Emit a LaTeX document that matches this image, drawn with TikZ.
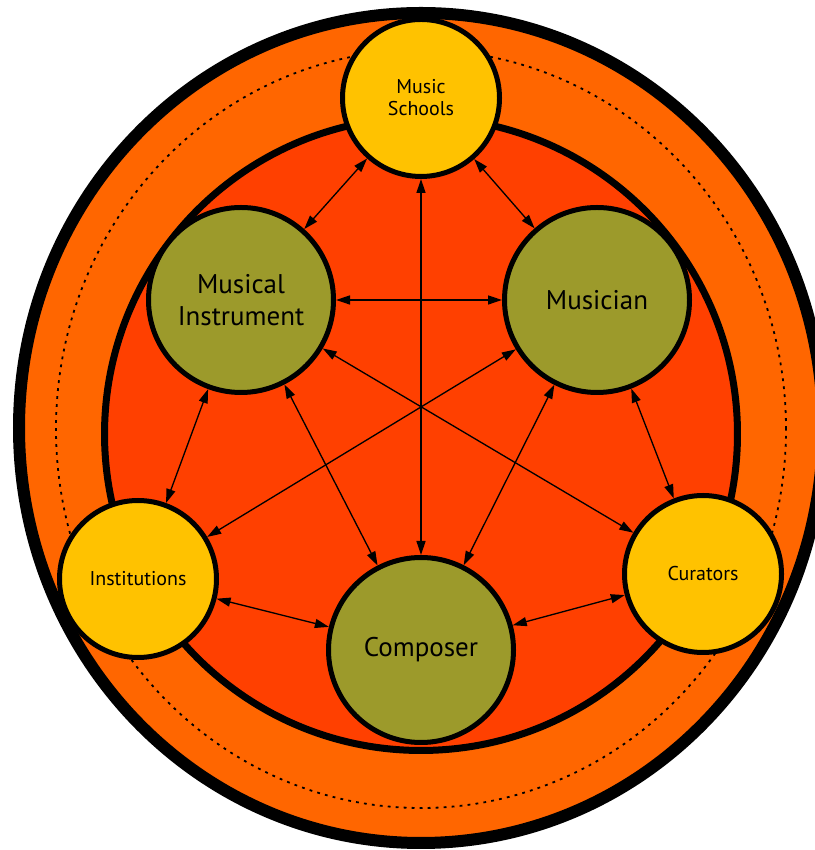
\documentclass[tikz,border=0pt]{standalone}
\usepackage{fontspec}
\setmainfont{PT Sans}
\usepackage{tikz}
\usetikzlibrary{arrows.meta}
\definecolor{bandorange}{HTML}{FF6600}
\definecolor{coreorange}{HTML}{FF4000}
\definecolor{actoryellow}{HTML}{FFC200}
\definecolor{actorgreen}{HTML}{9C9A2B}
\tikzset{
  every picture/.style={line join=round, >={Triangle[length=0.35cm,width=0.225cm]}},
  ringnode/.style={circle,draw,line width=0.125cm,fill=actoryellow,minimum size=3.925cm,inner sep=0pt,align=center,font=\fontsize{14.2}{15.6}\selectfont},
  corenode/.style={circle,draw,line width=0.125cm,fill=actorgreen,minimum size=4.625cm,inner sep=0pt,align=center,font=\fontsize{19.2}{22.7}\selectfont},
  link/.style={<->,line width=0.033cm},
}

\begin{document}
\begin{tikzpicture}
\useasboundingbox (0,0) rectangle (20.350,21.250);
% bands
\draw[line width=0.300cm,fill=bandorange] (10.525,10.550) ellipse[x radius=10.050,y radius=10.375];
\draw[line width=0.045cm,dash pattern=on 0.070cm off 0.130cm] (10.525,10.525) ellipse[x radius=9.125,y radius=9.475];
\draw[line width=0.175cm,fill=coreorange] (10.525,10.400) circle[radius=7.912];
% actors
\node[ringnode] (schools) at (10.525,18.800) {Music\\Schools};
\node[ringnode] (institutions) at (3.450,6.775) {Institutions};
\node[ringnode] (curators) at (17.575,6.900) {Curators};
\node[corenode] (instrument) at (6.025,13.750) {Musical\\Instrument};
\node[corenode] (musician) at (14.925,13.750) {Musician};
\node[corenode] (composer) at (10.525,5.000) {Composer};
% links
\draw[link] (schools) -- (instrument);
\draw[link] (schools) -- (musician);
\draw[link] (schools) -- (composer);
\draw[link] (instrument) -- (musician);
\draw[link] (instrument) -- (institutions);
\draw[link] (instrument) -- (composer);
\draw[link] (instrument) -- (curators);
\draw[link] (musician) -- (institutions);
\draw[link] (musician) -- (composer);
\draw[link] (musician) -- (curators);
\draw[link] (institutions) -- (composer);
\draw[link] (composer) -- (curators);
\end{tikzpicture}
\end{document}
